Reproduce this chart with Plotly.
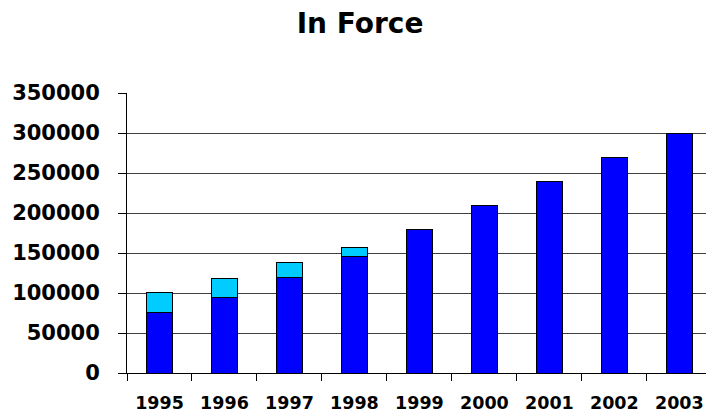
import plotly.graph_objects as go

years = ["1995", "1996", "1997", "1998", "1999", "2000", "2001", "2002", "2003"]
in_force = [75500, 95000, 119000, 146000, 180000, 210000, 240000, 270000, 300000]
additional = [25500, 23000, 19000, 11000, 0, 0, 0, 0, 0]
y_ticks = [0, 50000, 100000, 150000, 200000, 250000, 300000, 350000]

FONT = "DejaVu Sans"

fig = go.Figure()
fig.add_trace(go.Bar(
    x=years, y=in_force, name="In Force",
    marker=dict(color="#0000FF", line=dict(color="#000000", width=1)),
))
fig.add_trace(go.Bar(
    x=years, y=additional, name="Additional",
    marker=dict(color="#00CCFF", line=dict(color="#000000", width=1)),
))

fig.update_layout(
    width=706, height=412,
    barmode="stack", bargap=0.6,
    showlegend=False,
    plot_bgcolor="white", paper_bgcolor="white",
    margin=dict(l=127, r=0, t=93, b=39),
    title=dict(
        text="<b>In Force</b>",
        font=dict(family=FONT, size=28, color="black"),
        x=0.51, xanchor="center", xref="container",
        y=1 - 23 / 412, yanchor="middle", yref="container",
    ),
    xaxis=dict(
        type="category",
        range=[-0.5, 8.41],
        showline=True, linecolor="black", linewidth=1,
        ticks="outside", tickson="boundaries", ticklen=7, tickcolor="black",
        tickfont=dict(family=FONT, size=17.5, color="black", weight="bold"),
        ticklabelstandoff=14,
        showgrid=False,
        automargin=False,
    ),
    yaxis=dict(
        range=[0, 350000],
        tickvals=y_ticks,
        ticktext=[str(v) for v in y_ticks],
        showline=True, linecolor="black", linewidth=1,
        ticks="outside", ticklen=8, tickcolor="black",
        tickfont=dict(family=FONT, size=21, color="black", weight="bold"),
        ticklabelstandoff=14,
        showgrid=True, gridcolor="#404040", gridwidth=1,
        zeroline=False,
        automargin=False,
    ),
)

fig.write_html(
    "out.html",
    config={"displayModeBar": False},
    post_script="document.body.style.margin='0';document.body.style.overflow='hidden';",
)
